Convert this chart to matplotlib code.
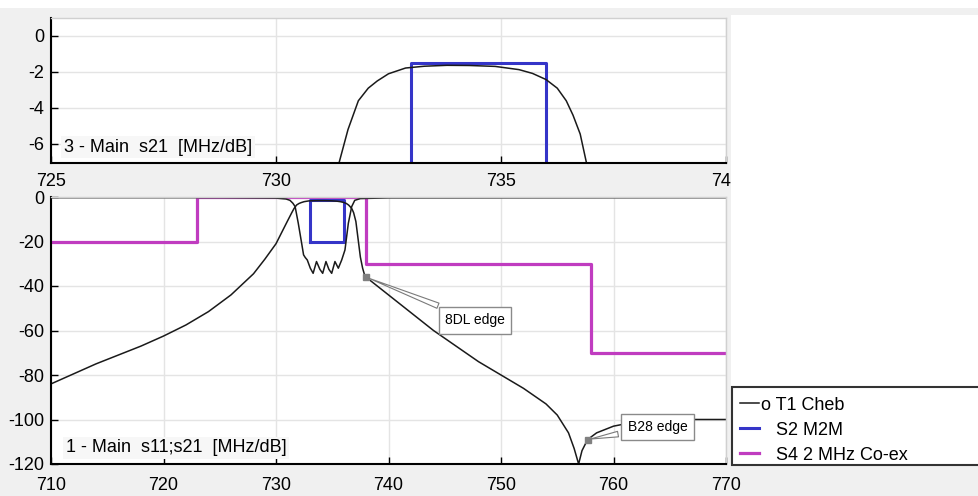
import matplotlib
matplotlib.use('Agg')
import matplotlib.pyplot as plt
from matplotlib.patches import Rectangle

plt.rcParams['font.family'] = ['Liberation Sans', 'DejaVu Sans']
plt.rcParams['axes.unicode_minus'] = False

# T1 Cheb - s21 (insertion) in MHz / dB
s21_f = [710, 712, 714, 716, 718, 720, 722, 724, 726, 728, 729, 730, 730.6, 731.0,
         731.4, 731.6, 731.83, 732.05, 732.25, 732.5, 732.88, 733.3, 733.8, 734.3,
         734.87, 735.4, 735.7, 736.0, 736.25, 736.45, 736.6, 736.76, 736.9, 737.1,
         737.3, 737.5, 737.7, 737.9, 738.0, 740, 742, 744, 746, 748, 750, 752, 754,
         755, 756, 756.5, 756.9, 757.2, 757.7, 758.5, 760, 762, 765, 770]
s21_db = [-84, -79.5, -75, -71, -67, -62.5, -57.5, -51.5, -44, -34.5, -28, -21, -15, -11,
          -7.06, -5.2, -3.6, -2.9, -2.5, -2.1, -1.78, -1.68, -1.63, -1.64,
          -1.69, -1.87, -2.08, -2.42, -2.9, -3.6, -4.4, -5.45, -7.06, -11,
          -19, -27, -32, -35.5, -36, -44, -52, -60, -67, -74, -80, -86, -93,
          -98, -106, -113, -120, -114, -109, -106, -103, -101, -100, -100]

# T1 Cheb - s11 (return loss)
s11_f = [710, 725, 730, 730.9, 731.24, 731.5, 731.7, 731.98, 732.28, 732.45, 732.6,
         732.78, 733.05, 733.3, 733.6, 733.9, 734.15, 734.44, 734.7, 734.95, 735.24,
         735.54, 735.84, 736.13, 736.43, 736.73, 737.0, 737.5, 740, 770]
s11_db = [-0.3, -0.3, -0.5, -0.9, -1.5, -2.8, -4.3, -11.8, -20.8, -26, -27.2,
          -28.3, -32, -34.3, -29, -32.5, -34.3, -29, -32.5, -34.3, -29,
          -32, -28.3, -23.8, -11.8, -4.3, -1.5, -0.7, -0.4, -0.3]

# S2 M2M mask
m2m_f = [733, 733, 736, 736, 733]
m2m_db = [-20, -1.5, -1.5, -20, -20]

# S4 2 MHz Co-ex mask
coex_f = [710, 723, 723, 738, 738, 758, 758, 770]
coex_db = [-20, -20, 0, 0, -30, -30, -70, -70]

# marked edges
edge_names = ['8DL edge', 'B28 edge']
edge_f = [738.0, 757.7]
edge_db = [-36, -109]
edge_text_f = [747.7, 763.9]
edge_text_db = [-55.5, -103.4]

BLACK = '#1a1a1a'
BLUE = '#3535c8'
MAGENTA = '#c03cc0'

fig = plt.figure(figsize=(9.79, 4.96), dpi=100)
fig.patch.set_facecolor('#f0f0f0')

# white strips of the window
fig.patches.append(Rectangle((0, 1 - 8 / 496), 1, 8 / 496, transform=fig.transFigure,
                             facecolor='white', edgecolor='none', zorder=0))
fig.patches.append(Rectangle((731 / 979, 1 - 386 / 496), 1, (386 - 15) / 496,
                             transform=fig.transFigure, facecolor='white',
                             edgecolor='none', zorder=5))

ax1 = fig.add_axes([51 / 979, 1 - 163 / 496, 675 / 979, 145 / 496])
ax2 = fig.add_axes([51 / 979, 1 - 464 / 496, 675 / 979, 267 / 496])


def style(ax):
    ax.set_facecolor('white')
    ax.grid(True, color='#e4e4e4', linewidth=1)
    ax.set_axisbelow(True)
    for s in ['left', 'bottom']:
        ax.spines[s].set_color('black')
        ax.spines[s].set_linewidth(1.5)
    for s in ['top', 'right']:
        ax.spines[s].set_color('#d0d0d0')
        ax.spines[s].set_linewidth(1)
    ax.tick_params(direction='in', length=5, width=1, labelsize=13)
    ax.tick_params(axis='x', pad=7)
    ax.tick_params(axis='y', pad=5)


# top: s21 zoom
ax1.plot(m2m_f, m2m_db, color=BLUE, linewidth=2.2)
ax1.plot(s21_f, s21_db, color=BLACK, linewidth=1.1)
ax1.set_xlim(725, 740)
ax1.set_ylim(-7.06, 1.0)
ax1.set_xticks([725, 730, 735, 740])
ax1.set_yticks([0, -2, -4, -6])
style(ax1)
ax1.text(0.019, 0.11, '3 - Main  s21  [MHz/dB]', transform=ax1.transAxes,
         fontsize=13, va='center', ha='left',
         bbox=dict(boxstyle='square,pad=0.15', facecolor='#f7f7f7', edgecolor='none'))

# bottom: s11 / s21 with masks
l_coex, = ax2.plot(coex_f, coex_db, color=MAGENTA, linewidth=2.3)
l_m2m, = ax2.plot(m2m_f, m2m_db, color=BLUE, linewidth=2.2)
ax2.plot(s11_f, s11_db, color=BLACK, linewidth=1.1)
l_t1, = ax2.plot(s21_f, s21_db, color=BLACK, linewidth=1.1)
ax2.set_xlim(710, 770)
ax2.set_ylim(-120, 0)
ax2.set_xticks(range(710, 771, 10))
ax2.set_yticks(range(-120, 1, 20))
style(ax2)
ax2.tick_params(axis='x', pad=9)
ax2.text(0.022, 0.06, '1 - Main  s11;s21  [MHz/dB]', transform=ax2.transAxes,
         fontsize=13, va='center', ha='left',
         bbox=dict(boxstyle='square,pad=0.15', facecolor='#f7f7f7', edgecolor='none'))

for name, f, db, tf, tdb in zip(edge_names, edge_f, edge_db, edge_text_f, edge_text_db):
    ax2.plot([f], [db], marker='s', markersize=4, color='#808080', zorder=4)
    ax2.annotate(name, xy=(f, db), xytext=(tf, tdb), fontsize=10,
                 ha='center', va='center', zorder=6,
                 bbox=dict(boxstyle='square,pad=0.45', facecolor='white', edgecolor='#8a8a8a'),
                 arrowprops=dict(arrowstyle='wedge,tail_width=0.4', facecolor='white',
                                 edgecolor='#7a7a7a', linewidth=0.8))

# legend box
fig.patches.append(Rectangle((731.7 / 979, 1 - 465 / 496), 0.3, 78 / 496,
                             transform=fig.transFigure, facecolor='white',
                             edgecolor='#333333', linewidth=1.5, zorder=6))
leg = fig.legend([l_t1, l_m2m, l_coex],
                 ['o T1 Cheb', '   S2 M2M', '   S4 2 MHz Co-ex'],
                 loc='upper left', bbox_to_anchor=(738 / 979, 1 - 395 / 496),
                 frameon=False, fontsize=13, handlelength=1.05, handletextpad=0.1,
                 labelspacing=0.44, borderaxespad=0, borderpad=0.1)
leg.set_zorder(7)

fig.savefig('out.png', dpi=100, facecolor=fig.get_facecolor())
